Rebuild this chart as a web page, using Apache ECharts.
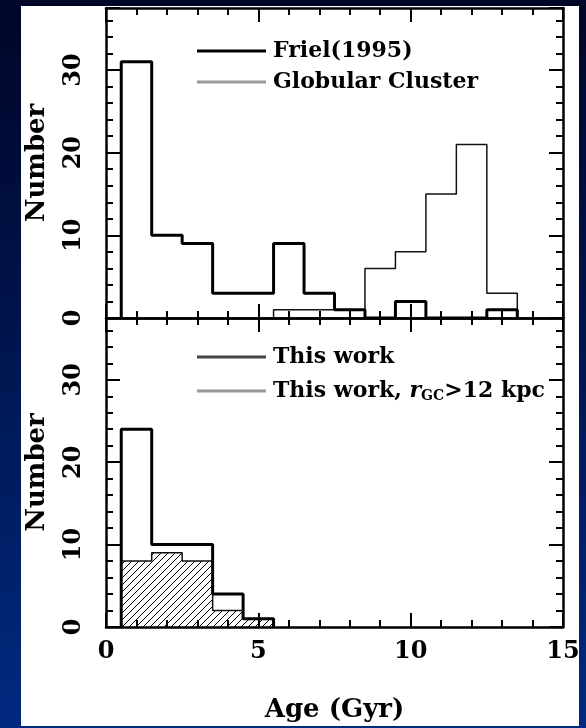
<!DOCTYPE html>
<html><head><meta charset="utf-8">
<script src="https://cdn.jsdelivr.net/npm/echarts@6/dist/echarts.min.js"></script>
<style>
html,body{margin:0;padding:0;width:586px;height:728px;overflow:hidden;
background:linear-gradient(to bottom,#000628 0%,#001248 40%,#002a80 100%);}
#panel{position:absolute;left:21px;top:6px;width:558px;height:720px;background:#fff;}
#chart{position:absolute;left:0;top:0;width:586px;height:728px;}
</style></head><body><div id="panel"></div><div id="chart"></div>
<script>
// ---- data (bin centres in Gyr, counts) ----
const frielBins = [1,2,3,4,5,6,7,8,9,10,11,12,13];
const frielCounts = [31,10,9,3,3,9,3,1,0,2,0,0,1];
const globularBins = [6,7,8,9,10,11,12,13];
const globularCounts = [1,1,1,6,8,15,21,3];
const thisWorkBins = [1,2,3,4,5];
const thisWorkCounts = [24,10,10,4,1];
const outerBins = [1,2,3,4,5];
const outerCounts = [8,9,8,2,1];
const xTickValues = [0,5,10,15];
const yTickValues = [0,10,20,30];
const seriesNames = ['Friel(1995)','Globular Cluster','This work','This work, rGC>12 kpc'];
const xLabelName = 'Age (Gyr)';
const yLabelName = 'Number';

const BIN = 1;
function outline(centers, counts){
  const pts = [[centers[0]-BIN/2, 0]];
  centers.forEach((c,i)=>{ pts.push([c-BIN/2, counts[i]], [c+BIN/2, counts[i]]); });
  pts.push([centers[centers.length-1]+BIN/2, 0]);
  return pts;
}

const FONT = 'DejaVu Serif';
const hc = document.createElement('canvas'); hc.width = 7; hc.height = 7;
const g = hc.getContext('2d'); g.strokeStyle = '#000'; g.lineWidth = 1;
g.beginPath(); g.moveTo(0,7); g.lineTo(7,0); g.moveTo(-1,1); g.lineTo(1,-1); g.moveTo(6,8); g.lineTo(8,6); g.stroke();

const chart = echarts.init(document.getElementById('chart'), null, {renderer:'canvas'});
const XMIN = xTickValues[0], XMAX = xTickValues[xTickValues.length-1];
const YMAX = 37.5;
function xAx(grid, pos, labels){
  return {type:'value', gridIndex:grid, position:pos, min:XMIN, max:XMAX, interval:5,
    axisLine:{show:true, onZero:false, lineStyle:{color:'#000', width:2.5}},
    axisTick:{show:true, inside:true, length:14, lineStyle:{color:'#000', width:2}},
    minorTick:{show:true, splitNumber:5, length:7, lineStyle:{color:'#000', width:2}},
    splitLine:{show:false},
    axisLabel:{show:labels, margin:13, color:'#000', fontFamily:FONT, fontWeight:'bold', fontSize:24},
    name: labels ? xLabelName : '', nameLocation:'middle', nameGap:70,
    nameTextStyle:{color:'#000', fontFamily:FONT, fontWeight:'bold', fontSize:26}};
}
function yAx(grid, pos, labels){
  return {type:'value', gridIndex:grid, position:pos, min:0, max:YMAX, interval:10,
    axisLine:{show:true, onZero:false, lineStyle:{color:'#000', width:2.5}},
    axisTick:{show:true, inside:true, length:14, lineStyle:{color:'#000', width:2}},
    minorTick:{show:true, splitNumber:5, length:7, lineStyle:{color:'#000', width:2}},
    splitLine:{show:false},
    axisLabel:{show:labels, rotate:90, margin:20, showMaxLabel:false, color:'#000', fontFamily:FONT, fontWeight:'bold', fontSize:24},
    name: labels ? yLabelName : '', nameLocation:'middle', nameGap:56,
    nameTextStyle:{color:'#000', fontFamily:FONT, fontWeight:'bold', fontSize:26}};
}
const legendText = {color:'#000', fontFamily:FONT, fontWeight:'bold', fontSize:22, lineHeight:24, padding:[0,0,0,2],
  rich:{
    i:{color:'#000', fontFamily:FONT, fontWeight:'bold', fontStyle:'italic', fontSize:22, lineHeight:24},
    s:{color:'#000', fontFamily:FONT, fontWeight:'bold', fontSize:14, padding:[10,0,0,0]}
  }};
chart.setOption({
  animation:false,
  backgroundColor:'transparent',
  grid:[{left:106, right:23, top:8, height:310},{left:106, right:23, top:318, height:309}],
  xAxis:[xAx(0,'bottom',false), xAx(0,'top',false), xAx(1,'bottom',true), xAx(1,'top',false)],
  yAxis:[yAx(0,'left',true), yAx(0,'right',false), yAx(1,'left',true), yAx(1,'right',false)],
  legend:[
    {orient:'vertical', left:197, top:39, padding:0, itemWidth:69, itemHeight:3, itemGap:7, icon:'rect', selectedMode:false,
     textStyle:legendText,
     data:[{name:seriesNames[0], itemStyle:{color:'#000'}},{name:seriesNames[1], itemStyle:{color:'#999'}}]},
    {orient:'vertical', left:197, top:345, padding:0, itemWidth:69, itemHeight:3, itemGap:10, icon:'rect', selectedMode:false,
     textStyle:legendText,
     formatter:(n)=> n===seriesNames[3] ? 'This work, {i|r}{s|GC}>12 kpc' : n,
     data:[{name:seriesNames[2], itemStyle:{color:'#444'}},{name:seriesNames[3], itemStyle:{color:'#999'}}]}
  ],
  series:[
    {name:seriesNames[1], type:'line', xAxisIndex:0, yAxisIndex:0, data:outline(globularBins, globularCounts),
     showSymbol:false, symbol:'none', lineStyle:{color:'#111', width:1.5}, itemStyle:{color:'#999'}, z:2},
    {name:seriesNames[0], type:'line', xAxisIndex:0, yAxisIndex:0, data:outline(frielBins, frielCounts),
     showSymbol:false, symbol:'none', lineStyle:{color:'#000', width:3}, itemStyle:{color:'#000'}, z:3},
    {name:seriesNames[3], type:'line', xAxisIndex:2, yAxisIndex:2, data:outline(outerBins, outerCounts),
     showSymbol:false, symbol:'none', lineStyle:{color:'#111', width:1.5}, itemStyle:{color:'#999'},
     areaStyle:{color:{image:hc, repeat:'repeat'}, opacity:1}, z:2},
    {name:seriesNames[2], type:'line', xAxisIndex:2, yAxisIndex:2, data:outline(thisWorkBins, thisWorkCounts),
     showSymbol:false, symbol:'none', lineStyle:{color:'#000', width:3}, itemStyle:{color:'#444'}, z:3}
  ]
});
</script></body></html>
